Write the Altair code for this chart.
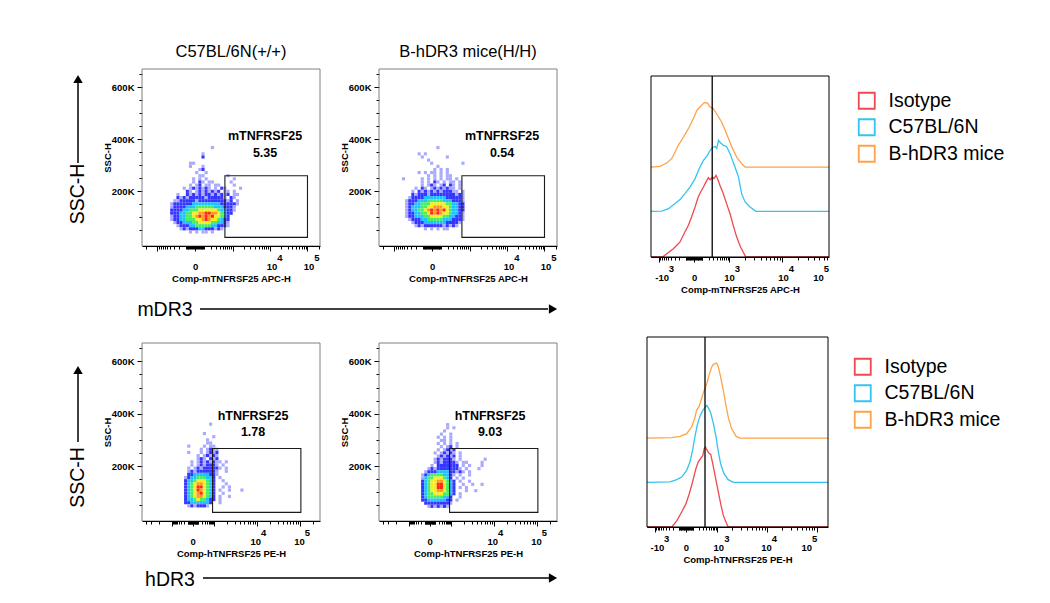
import json
import math
import altair as alt
import pandas as pd

FONT = "Liberation Sans"

# ---------------------------------------------------------------- data ----
# Dot plots: pseudo-colour density maps.
# One character per cell: '.' = no events, 1..7 = density level (low -> high).
# Each cell is 18 display channels wide (x axis runs 0..1024) and 12K SSC-H tall.
LEVEL_COLORS = ["#a9a9ff", "#3535ff", "#1ec0ff", "#47ee62", "#f2ee22", "#ff9a1a", "#ff2a10"]
CELL_W = 18
CELL_H = 12000

P1_ORIGIN = [144, 374000]
P1_ROWS = [
    "..............1",
    "",
    "...........1",
    "...........2",
    "",
    ".......11",
    ".......1...1",
    "..........12",
    ".........1..1",
    "..........11.......1",
    "........1.1.1........1",
    "........1.21.11.....1",
    ".......1.12.11.11....1",
    ".....1.1212121.1.21....1",
    "......21.12121212.11.1",
    "...1..21212122121212.11",
    "...2121222221222221.21",
    "..1122222122222222212.1",
    ".1222222333333333222221",
    ".122223334444443332221",
    ".222233444555555433221",
    ".22233445566776654322",
    ".1223344567676755432",
    ".1223344455676554322",
    "..122333445555443321",
    "...12223344444332221",
    "....12122233222121",
    ".......1.1.11.1",
]

P2_ORIGIN = [132, 374000]
P2_ROWS = [
    "...........1",
    "",
    ".....1.1",
    "......1.......1",
    "........1",
    ".........1.........1",
    "...........1",
    "..........1.1.1",
    ".....1.1.11.1.1",
    "........1.1.1.11",
    "1.....1.1.1.1.11.1",
    "......1.1.21.1.11.1",
    "......1.121.12.21.1",
    "....1.21.12121211.1",
    "...1.2121212122211.1",
    "...21222122222222121",
    "..122223333333222221",
    ".1222333444443332221",
    ".1223344455555443322",
    ".1233344556665543322",
    ".1233445676767543322",
    ".1223344576765543321",
    ".1223334455554433221",
    "..122233444443332221",
    "...1222333333322221",
    "....12122222212121",
    ".......1.1.1.11",
]

P3_ORIGIN = [242, 366000]
P3_ROWS = [
    "........1",
    "",
    "",
    "......1",
    ".........1",
    ".......1",
    ".......11",
    ".1....1.11",
    ".....1.1211",
    ".1...1.1212",
    "....1.12121",
    "....121.212",
    "..1.12121211.1",
    "..1.1212221.1",
    ".1.121222221.1",
    ".1212222221..1",
    ".2233333221",
    "1233444332.1",
    "2334555432..1",
    "2345665432...1",
    "2345775432..1.1",
    "2345765432.1..1...1",
    "2345675432..1",
    "2345665432.1..1",
    "2334544322.1",
    "223333332..1",
    ".1212221",
]

P4_ORIGIN = [242, 364000]
P4_ROWS = [
    "........1",
    "........1.1",
    ".......1",
    "......1..1",
    ".....1.1.1",
    "......11.1",
    ".....1.1.1.1",
    "......1.12.1",
    ".....1.1212",
    "....1.12121.1",
    ".....121212.1",
    "....1212221.1.......1",
    "....12122221.11....1",
    "...1.2222222.1.1...1",
    "..12122222221.1...1",
    ".1222333322121.1",
    "12344443321.1..1",
    "1344555432.1.1",
    "23455665432.1..1",
    "23455775432..1..1..1",
    "23455775432.1.1",
    "23455665432...1..1",
    "23445554432.1",
    "2344444332..1",
    "2233333322.1",
    ".222222221",
    "..1212121",
]

COLUMN_TITLES = ["C57BL/6N(+/+)", "B-hDR3 mice(H/H)"]
TOP_XTITLE = "Comp-mTNFRSF25 APC-H"
BOTTOM_XTITLE = "Comp-hTNFRSF25 PE-H"
TOP_MARKER = "mTNFRSF25"
BOTTOM_MARKER = "hTNFRSF25"
GATE_PCT = ["5.35", "0.54", "1.78", "9.03"]
# gates: [x from, x to, SSC from, SSC to]
TOP_GATE = [477, 952, 23000, 260000]
BOTTOM_GATE = [406, 914, 23000, 267000]
TOP_GATE_TEXT = [708, 413000, 348000]
BOTTOM_GATE_TEXT = [639, 393000, 329000]

Y_TICKS = list(range(50000, 650001, 50000))

# tick labels (display position, text); '^' marks the exponent
TOP_DOT_LABELS = [(305, "0"), (745, "10^4"), (958, "10^5")]
BOTTOM_DOT_LABELS = [(291, "0"), (652, "10^4"), (903, "10^5")]
HIST1_LABELS = [(-0.923, "-10^3"), (0, "0"), (1.0, "10^3"), (2.54, "10^4"), (3.54, "10^5")]
HIST2_LABELS = [(-0.88, "-10^3"), (0, "0"), (0.98, "10^3"), (2.42, "10^4"), (3.64, "10^5")]

# Histograms (x in display units, y in % of plot height; curves offset as drawn)
SAMPLES = ["Isotype", "C57BL/6N", "B-hDR3 mice"]
SAMPLE_COLORS = ["#f0484f", "#33c4f0", "#ffa347"]

H1_RED_U = [-1.229, -0.90, -0.59, -0.40, -0.26, -0.16, -0.07, 0.03, 0.12, 0.19, 0.27, 0.34, 0.41, 0.46,
            0.53, 0.57, 0.63, 0.69, 0.74, 0.82, 0.93, 1.03, 1.12, 1.22, 1.33, 1.48, 3.857]
H1_RED_Y = [0, 0, 4.6, 8.3, 13.8, 17.5, 22.1, 27.6, 33.1, 35.9, 38.7, 41.4, 43.8, 42.7,
            44.2, 43.3, 45.1, 42.4, 39.6, 35.9, 29.5, 23.9, 17.5, 11.0, 5.5, 0, 0]
H1_CYAN_U = [-1.229, -0.92, -0.73, -0.54, -0.40, -0.26, -0.11, 0.03, 0.17, 0.27, 0.38, 0.46, 0.53, 0.60,
             0.65, 0.70, 0.76, 0.84, 0.93, 1.03, 1.17, 1.27, 1.36, 1.46, 1.60, 1.77, 3.857]
H1_CYAN_Y = [25.2, 25.4, 26.7, 29.5, 31.7, 35.0, 38.7, 43.3, 49.7, 53.4, 56.2, 58.9, 60.4, 61.1,
             59.9, 64.5, 63.0, 61.7, 61.1, 57.1, 49.7, 44.2, 35.0, 30.4, 27.6, 25.2, 25.2]
H1_ORANGE_U = [-1.229, -0.97, -0.78, -0.64, -0.54, -0.45, -0.30, -0.16, -0.02, 0.08, 0.17, 0.29, 0.38,
               0.46, 0.55, 0.67, 0.79, 0.93, 1.08, 1.22, 1.36, 1.46, 3.857]
H1_ORANGE_Y = [49.7, 50.1, 51.9, 54.3, 58.0, 61.7, 66.3, 70.9, 76.4, 81.0, 82.9, 85.3, 85.1,
               82.9, 82.0, 78.3, 74.6, 68.1, 60.8, 55.2, 51.6, 49.7, 49.7]
H1_CUTOFF = 0.52

H2_RED_U = [-1.18, -0.43, -0.28, -0.13, 0.0, 0.10, 0.20, 0.30, 0.37, 0.44, 0.51, 0.55, 0.59, 0.63,
            0.69, 0.75, 0.81, 0.89, 0.97, 1.05, 1.13, 1.23, 1.28, 4.30]
H2_RED_Y = [0, 0, 3.2, 7.9, 12.3, 17.5, 23.7, 30.7, 34.2, 36.0, 37.7, 41.2, 42.1, 40.7,
            38.9, 38.2, 33.3, 26.3, 19.3, 12.3, 6.1, 1.8, 0, 0]
H2_CYAN_U = [-1.18, -0.48, -0.28, -0.13, 0.02, 0.12, 0.20, 0.27, 0.34, 0.42, 0.51, 0.57, 0.63, 0.69,
             0.75, 0.83, 0.91, 0.98, 1.05, 1.15, 1.28, 1.43, 4.30]
H2_CYAN_Y = [23.5, 23.7, 24.9, 26.3, 29.8, 34.2, 40.4, 47.4, 53.5, 58.2, 61.4, 62.8, 64.0, 62.3,
             60.0, 54.4, 47.4, 39.5, 33.3, 28.1, 24.9, 23.5, 23.5]
H2_ORANGE_U = [-1.18, -0.43, -0.18, 0.02, 0.17, 0.27, 0.32, 0.40, 0.47, 0.55, 0.63, 0.71, 0.78, 0.83,
               0.89, 0.93, 0.98, 1.05, 1.13, 1.21, 1.29, 1.38, 1.52, 1.64, 4.30]
H2_ORANGE_Y = [46.8, 47.0, 47.7, 49.1, 52.6, 57.5, 61.4, 63.5, 67.5, 71.9, 75.4, 80.7, 84.2, 85.6,
               86.0, 86.3, 84.2, 78.9, 71.9, 64.0, 57.0, 51.8, 47.7, 46.8, 46.8]
H2_CUTOFF = 0.576

# ------------------------------------------------------------- helpers ----
NBSP = "\u00a0"
ZWSP = "\u200b"  # keeps the leading spaces from being trimmed
RAW_TICKS = [0] + [s * m * 10 ** e for e in range(1, 6) for m in range(1, 10) for s in (1, -1)]
MAJOR_RAW = {0, 1000, -1000, 10000, 100000}
LABEL_LINE = 9.5


def biex_pos(v, zero, c1k, dec, w=150.0):
    a = abs(v)
    if a <= 1000:
        d = (c1k - zero) * math.asinh(a / w) / math.asinh(1000 / w)
    else:
        d = (c1k - zero) + dec * math.log10(a / 1000)
    return zero + (d if v >= 0 else -d)


def label_text(s):
    if "^" in s:
        base, exp = s.split("^")
        pad = NBSP * (7 if base.startswith("-") else 6)
        return [ZWSP + pad + exp, base]
    return s


def x_axis(title, zero, c1k, dec, lo, hi, labels):
    ticks = {}
    for v in RAW_TICKS:
        p = round(biex_pos(v, zero, c1k, dec), 3)
        if lo <= p <= hi:
            ticks[p] = ticks.get(p, False) or (v in MAJOR_RAW)
    majors = sorted(p for p, m in ticks.items() if m)
    labs = [(round(p + 0.0007, 4), s) for p, s in labels]
    lab_pos = [p for p, _ in labs]
    plain_pos = [p for p, s in labs if "^" not in s]
    values = sorted(set(ticks) | set(lab_pos))
    expr = "''"
    for p, s in reversed(labs):
        expr = f"datum.value == {p!r} ? {json.dumps(label_text(s), ensure_ascii=False)} : ({expr})"
    return alt.Axis(
        values=values, labelExpr=expr,
        tickSize={"condition": {"test": f"indexof({json.dumps(majors)}, datum.value) >= 0", "value": 5}, "value": 3},
        tickOpacity={"condition": {"test": f"indexof({json.dumps(lab_pos)}, datum.value) >= 0", "value": 0}, "value": 1},
        labelPadding={"condition": {"test": f"indexof({json.dumps(plain_pos)}, datum.value) >= 0",
                                    "value": 3 + LABEL_LINE}, "value": 3},
        title=title, titleFont=FONT, titleFontSize=9.5, titleFontWeight="bold", titleColor="black", titlePadding=2,
        labelFont=FONT, labelFontSize=9.5, labelFontWeight="bold", labelColor="black", labelLineHeight=LABEL_LINE,
        labelOverlap=False, labelFlush=False, labelBound=False,
        domain=True, domainColor="black", domainWidth=1, tickColor="black", tickWidth=1, grid=False, zindex=1,
    )


def y_axis(height):
    return alt.Axis(
        values=Y_TICKS,
        labelExpr="datum.value % 200000 == 0 ? (datum.value / 1000) + 'K' : ''",
        tickSize={"condition": {"test": "datum.value % 200000 == 0", "value": 5}, "value": 3},
        title="SSC-H", titleFont=FONT, titleFontSize=9.5, titleFontWeight="bold", titleColor="black",
        titleX=-34.5, titleY=height / 2, titleAngle=270, titleAlign="center", titleBaseline="middle",
        labelFont=FONT, labelFontSize=9.5, labelFontWeight="bold", labelColor="black", labelPadding=3,
        labelOverlap=False, labelFlush=False, domain=False, tickColor="black", tickWidth=1, grid=False,
    )


def grid_df(rows, origin):
    x0, ytop = origin
    recs = []
    for r, row in enumerate(rows):
        for c, ch in enumerate(row):
            if ch != ".":
                recs.append({"x0": x0 + c * CELL_W, "x1": x0 + (c + 1) * CELL_W,
                             "y1": ytop - r * CELL_H, "y0": ytop - (r + 1) * CELL_H, "lvl": int(ch)})
    return pd.DataFrame(recs)


def one(t):
    return pd.DataFrame({"t": [t]})


def dot_panel(rows, origin, gate, marker, pct, text_pos, col_title, xaxis, height, extra=()):
    xs = alt.Scale(domain=[0, 1024], nice=False, zero=False)
    ys = alt.Scale(domain=[-10000, 670000], nice=False, zero=False)
    ya = y_axis(height)

    def X(f):
        return alt.X(f, type="quantitative", scale=xs, axis=xaxis)

    def Y(f):
        return alt.Y(f, type="quantitative", scale=ys, axis=ya)

    cells = alt.Chart(grid_df(rows, origin)).mark_rect(strokeWidth=0).encode(
        x=X("x0"), x2="x1", y=Y("y0"), y2="y1",
        color=alt.Color("lvl:O", scale=alt.Scale(domain=list(range(1, 8)), range=LEVEL_COLORS), legend=None),
    )
    gate_l = alt.Chart(pd.DataFrame({"x0": [gate[0]], "x1": [gate[1]], "y0": [gate[2]], "y1": [gate[3]]})).mark_rect(
        fillOpacity=0, stroke="#1a1a1a", strokeWidth=1.1).encode(x=X("x0"), x2="x1", y=Y("y0"), y2="y1")
    txt = alt.Chart(pd.DataFrame({"x": [text_pos[0]] * 2, "y": [text_pos[1], text_pos[2]], "t": [marker, pct]})).mark_text(
        font=FONT, fontSize=12.5, fontWeight="bold", color="black").encode(x=X("x"), y=Y("y"), text="t:N")
    frame = alt.Chart(pd.DataFrame({"x0": [0], "x1": [1024], "y0": [-10000], "y1": [670000]})).mark_rect(
        fillOpacity=0, stroke="#808080", strokeWidth=1).encode(x=X("x0"), x2="x1", y=Y("y0"), y2="y1")
    props = dict(width=178, height=height)
    if col_title:
        props["title"] = alt.TitleParams(col_title, font=FONT, fontSize=16.5, fontWeight="normal", color="black",
                                         offset=8, anchor="middle")
    return alt.layer(cells, gate_l, txt, frame, *extra).properties(**props)


def hist_panel(curves, dom, cutoff, width, height, xrange, yrange, xaxis, legend_xy):
    xs = alt.Scale(domain=dom, range=xrange, nice=False, zero=False)
    ys = alt.Scale(domain=[0, 100], range=yrange, nice=False, zero=False)
    recs = []
    for name, us, vs in curves:
        for i, (u, v) in enumerate(zip(us, vs)):
            recs.append({"sample": name, "u": u, "y": v, "i": i})
    lines = alt.Chart(pd.DataFrame(recs)).mark_line(strokeWidth=1.3).encode(
        x=alt.X("u:Q", scale=xs, axis=xaxis),
        y=alt.Y("y:Q", scale=ys, axis=None),
        color=alt.Color("sample:N", scale=alt.Scale(domain=SAMPLES, range=SAMPLE_COLORS),
                        legend=alt.Legend(title=None, orient="none", legendX=legend_xy[0], legendY=legend_xy[1],
                                          symbolType="square", symbolSize=256, symbolStrokeWidth=1.8,
                                          symbolFillColor="white", labelFont=FONT, labelFontSize=19.5,
                                          labelColor="black", rowPadding=2.5, labelOffset=12, padding=0)),
        order="i:Q",
    )
    vline = alt.Chart(pd.DataFrame({"u": [cutoff], "y0": [0], "y1": [100]})).mark_rule(
        color="black", strokeWidth=1.3).encode(
        x=alt.X("u:Q", scale=xs, axis=xaxis), y=alt.Y("y0:Q", scale=ys, axis=None), y2="y1")
    frame = alt.Chart(pd.DataFrame({"x0": [dom[0]], "x1": [dom[1]], "y0": [0], "y1": [100]})).mark_rect(
        fillOpacity=0, stroke="black", strokeWidth=1).encode(
        x=alt.X("x0:Q", scale=xs, axis=xaxis), x2="x1", y=alt.Y("y0:Q", scale=ys, axis=None), y2="y1")
    return alt.layer(lines, vline, frame).properties(width=width, height=height)


def side_labels(ssc_xy, shaft, head_y, word, word_xy, hline, hline_y, head_x):
    ssc = alt.Chart(one("SSC-H")).mark_text(font=FONT, fontSize=19.5, angle=270, color="black").encode(
        text="t:N", x=alt.value(ssc_xy[0]), y=alt.value(ssc_xy[1]))
    sh = alt.Chart(one("")).mark_rule(color="black", strokeWidth=1.5).encode(
        x=alt.value(ssc_xy[0]), y=alt.value(shaft[0]), y2=alt.value(shaft[1]))
    hd = alt.Chart(one("")).mark_point(shape="triangle-up", filled=True, size=90, color="black", opacity=1).encode(
        x=alt.value(ssc_xy[0]), y=alt.value(head_y))
    wd = alt.Chart(one(word)).mark_text(font=FONT, fontSize=19.5, color="black").encode(
        text="t:N", x=alt.value(word_xy[0]), y=alt.value(word_xy[1]))
    hl = alt.Chart(one("")).mark_rule(color="black", strokeWidth=1.5).encode(
        x=alt.value(hline[0]), x2=alt.value(hline[1]), y=alt.value(hline_y))
    hh = alt.Chart(one("")).mark_point(shape="triangle-right", filled=True, size=90, color="black", opacity=1).encode(
        x=alt.value(head_x), y=alt.value(hline_y))
    return [ssc, sh, hd, wd, hl, hh]


# --------------------------------------------------------------- build ----
top_ax = x_axis(TOP_XTITLE, 305, 521, 215, 0, 1024, TOP_DOT_LABELS)
bot_ax = x_axis(BOTTOM_XTITLE, 293, 415, 247, 0, 1024, BOTTOM_DOT_LABELS)

p1 = dot_panel(P1_ROWS, P1_ORIGIN, TOP_GATE, TOP_MARKER, GATE_PCT[0], TOP_GATE_TEXT, COLUMN_TITLES[0], top_ax, 177,
               side_labels((-64, 125), (14, 94), 10, "mDR3", (23, 241), (58, 406), 240, 411))
p2 = dot_panel(P2_ROWS, P2_ORIGIN, TOP_GATE, TOP_MARKER, GATE_PCT[1], TOP_GATE_TEXT, COLUMN_TITLES[1], top_ax, 177)
p3 = dot_panel(P3_ROWS, P3_ORIGIN, BOTTOM_GATE, BOTTOM_MARKER, GATE_PCT[2], BOTTOM_GATE_TEXT, "", bot_ax, 178,
               side_labels((-64, 134.5), (30, 99), 27, "hDR3", (28, 237), (61, 407), 235, 411))
p4 = dot_panel(P4_ROWS, P4_ORIGIN, BOTTOM_GATE, BOTTOM_MARKER, GATE_PCT[3], BOTTOM_GATE_TEXT, "", bot_ax, 178)

h1_dom = [-1.229, 3.857]
h2_dom = [-1.18, 4.30]
h1 = hist_panel([(SAMPLES[0], H1_RED_U, H1_RED_Y), (SAMPLES[1], H1_CYAN_U, H1_CYAN_Y), (SAMPLES[2], H1_ORANGE_U, H1_ORANGE_Y)],
                h1_dom, H1_CUTOFF, 213, 188, [35, 213], [188, 7],
                x_axis(TOP_XTITLE, 0, 1.0, 1.52, h1_dom[0], h1_dom[1], HIST1_LABELS), (241, 22))
h2 = hist_panel([(SAMPLES[0], H2_RED_U, H2_RED_Y), (SAMPLES[1], H2_CYAN_U, H2_CYAN_Y), (SAMPLES[2], H2_ORANGE_U, H2_ORANGE_Y)],
                h2_dom, H2_CUTOFF, 213, 184, [31, 212], [184, -6],
                x_axis(BOTTOM_XTITLE, 0, 0.94, 1.51, h2_dom[0], h2_dom[1], HIST2_LABELS), (237, 14))

chart = (
    alt.concat(p1, p2, h1, p3, p4, h2, columns=3, spacing={"row": 86, "column": 59}, bounds="flush")
    .resolve_scale(color="independent")
    .resolve_legend(color="independent")
    .properties(padding={"left": 60, "top": 36, "right": 5, "bottom": 0}, background="white")
    .configure_view(stroke=None)
)

chart.save("out.html", embed_options={"renderer": "svg", "actions": False})
